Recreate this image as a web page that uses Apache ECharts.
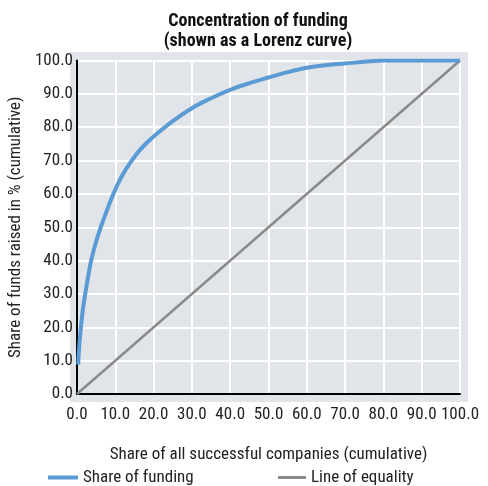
<!DOCTYPE html>
<html>
<head>
<meta charset="utf-8">
<script src="https://cdn.jsdelivr.net/npm/echarts@6/dist/echarts.min.js"></script>
<style>
  html, body { margin: 0; padding: 0; background: #fff; }
  #chart { width: 488px; height: 486px; }
</style>
</head>
<body>
<div id="chart"></div>
<script>
// Lorenz curve (x = share of companies, y = share of funds)
const shareCompanies = [0.3, 0.6, 1.0, 1.5, 2.1, 2.8, 3.6, 4.8, 6.2, 7.8, 9.5, 11.8, 14.3, 16.5, 20.0, 25.0, 30.0, 35.0, 40.0, 45.0, 50.0, 55.0, 60.0, 65.0, 70.0, 75.0, 80.0, 90.0, 100.0]
const shareFunding = [8.8, 14.5, 19.7, 25.0, 29.6, 34.5, 39.5, 45.0, 50.0, 55.0, 60.0, 65.5, 70.0, 73.3, 77.2, 81.8, 85.7, 88.7, 91.2, 93.2, 94.9, 96.5, 97.8, 98.6, 99.1, 99.6, 100.0, 100.0, 100.0]
const equalityX = [0, 100]
const equalityY = [0, 100]

const FONT = '"Roboto Condensed", "DejaVu Sans Condensed", sans-serif'

const chart = echarts.init(document.getElementById('chart'))

const option = {
    animation: false,
    title: {
        text: 'Concentration of funding\n(shown as a Lorenz curve)',
        left: 253,
        top: 6,
        textAlign: 'center',
        textStyle: {
            fontFamily: FONT,
            fontWeight: 'bold',
            fontSize: 18,
            lineHeight: 20,
            color: '#111'
        }
    },
    // grey panel is a bit larger than the grid itself
    graphic: [{
        type: 'rect',
        z: -10,
        shape: { x: 70, y: 52, width: 398, height: 350 },
        style: { fill: '#e1e5e9' }
    }],
    grid: {
        left: 77,
        right: 28,
        top: 60.5,
        bottom: 92,
        outerBoundsMode: 'none',
        show: true,
        backgroundColor: '#e1e5e9',
        borderWidth: 0
    },
    legend: [
        {
            left: 43,
            top: 464,
            data: ['Share of funding'],
            icon: 'rect',
            itemWidth: 30,
            itemHeight: 4,
            itemGap: 5,
            itemStyle: { color: '#5b9bd5' },
            textStyle: { fontFamily: FONT, fontSize: 17, color: '#222' }
        },
        {
            left: 273,
            top: 464,
            data: ['Line of equality'],
            icon: 'rect',
            itemWidth: 28,
            itemHeight: 3,
            itemStyle: { color: '#8a8a8a' },
            textStyle: { fontFamily: FONT, fontSize: 17, color: '#222' }
        }
    ],
    xAxis: {
        type: 'value',
        min: 0,
        max: 100,
        interval: 10,
        name: 'Share of all successful companies (cumulative)',
        nameLocation: 'middle',
        nameGap: 52,
        nameTextStyle: { fontFamily: FONT, fontSize: 17, color: '#222' },
        axisLine: { show: true, lineStyle: { color: '#000', width: 2 } },
        axisTick: { show: false },
        axisLabel: {
            fontFamily: FONT,
            fontSize: 17,
            color: '#222',
            margin: 12,
            showMinLabel: true,
            showMaxLabel: true,
            hideOverlap: false,
            formatter: v => v.toFixed(1)
        },
        splitLine: { show: true, lineStyle: { color: '#fff', width: 2 } }
    },
    yAxis: {
        type: 'value',
        min: 0,
        max: 100,
        interval: 10,
        name: 'Share of funds raised in % (cumulative)',
        nameLocation: 'middle',
        nameGap: 51,
        nameTextStyle: { fontFamily: FONT, fontSize: 17, color: '#222' },
        axisLine: { show: true, lineStyle: { color: '#000', width: 2 } },
        axisTick: { show: false },
        axisLabel: {
            fontFamily: FONT,
            fontSize: 17,
            color: '#222',
            margin: 4,
            formatter: v => v.toFixed(1)
        },
        splitLine: { show: true, lineStyle: { color: '#fff', width: 2 } }
    },
    series: [
        {
            name: 'Line of equality',
            type: 'line',
            data: equalityX.map((x, i) => [x, equalityY[i]]),
            showSymbol: false,
            lineStyle: { color: '#8a8a8a', width: 2.5 },
            itemStyle: { color: '#8a8a8a' },
            z: 2
        },
        {
            name: 'Share of funding',
            type: 'line',
            data: shareCompanies.map((x, i) => [x, shareFunding[i]]),
            smooth: 0.4,
            showSymbol: false,
            lineStyle: { color: '#5b9bd5', width: 4 },
            itemStyle: { color: '#5b9bd5' },
            z: 3
        }
    ]
}

chart.setOption(option)
</script>
</body>
</html>
